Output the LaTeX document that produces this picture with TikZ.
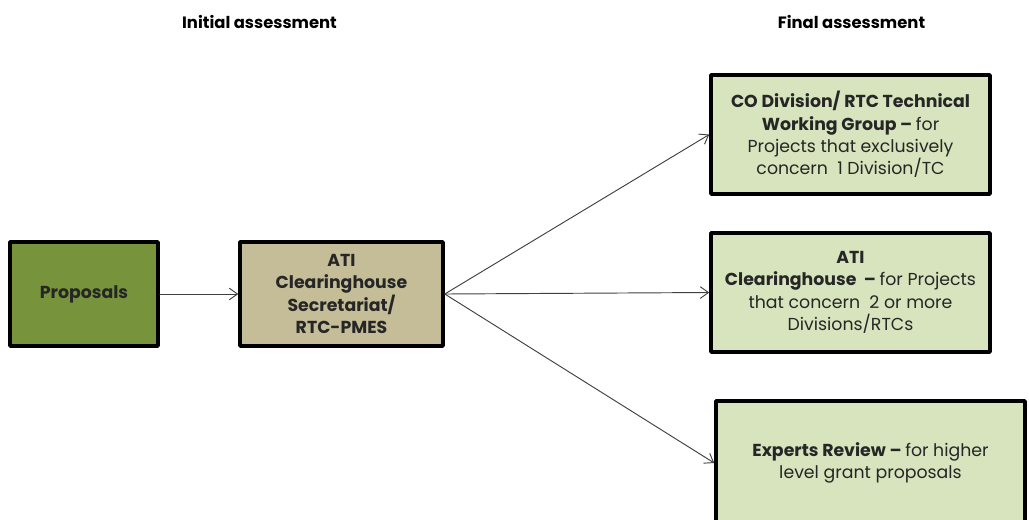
\documentclass[tikz,border=0pt]{standalone}
\usepackage{fontspec}
\setmainfont{Poppins}
\usetikzlibrary{arrows.meta}
\definecolor{propgreen}{HTML}{77933C}
\definecolor{atitan}{HTML}{C4BD97}
\definecolor{finalgreen}{HTML}{D7E4BD}
\definecolor{textgray}{HTML}{262626}
\definecolor{linegray}{HTML}{404040}

\begin{document}
\begin{tikzpicture}[line cap=round,line join=round,>={Straight Barb[length=7pt,width=10pt]},x=0.03cm,y=-0.03cm,
  box/.style={draw=black,line width=3pt,align=center,inner sep=0pt,text=textgray,font=\fontsize{14.8}{19.1}\selectfont},
  head/.style={font=\fontsize{14}{16}\selectfont\bfseries,text=black}]
\useasboundingbox (0,0) rectangle (1029,519);
\clip (0,0) rectangle (1029,519);
% column headings
\node[head] (hinit) at (259.5,22) {Initial assessment};
\node[head] (hfinal) at (851.5,22) {Final assessment};
% boxes
\node[box,fill=propgreen,minimum width=148*0.03cm,minimum height=104*0.03cm] (prop) at (84,294) {\bfseries Proposals};
\node[box,fill=atitan,minimum width=203*0.03cm,minimum height=104*0.03cm] (ati) at (341.5,294) {\bfseries ATI\\\bfseries Clearinghouse\\\bfseries Secretariat/\\\bfseries RTC-PMES};
\node[box,fill=finalgreen,minimum width=279*0.03cm,minimum height=119*0.03cm] (codiv) at (850.5,134.5) {\bfseries CO Division/ RTC Technical\\\bfseries Working Group -- \mdseries for\\Projects that exclusively\\concern\ \ 1 Division/TC};
\node[box,fill=finalgreen,minimum width=279*0.03cm,minimum height=119*0.03cm] (clear) at (850.5,292.5) {\bfseries ATI\\\bfseries Clearinghouse\ \ -- \mdseries for Projects\\that concern\ \ 2 or more\\Divisions/RTCs};
\node[box,fill=finalgreen,minimum width=309*0.03cm,minimum height=124*0.03cm] (expert) at (870.5,463) {\bfseries Experts Review -- \mdseries for higher\\level grant proposals};
% connectors
\draw[->,linegray,line width=0.8pt] (prop) -- (ati);
\draw[->,linegray,line width=0.8pt] (ati.east) -- (codiv.west);
\draw[->,linegray,line width=0.8pt] (ati.east) -- (clear.west);
\draw[->,linegray,line width=0.8pt] (ati.east) -- (expert.west);
\end{tikzpicture}
\end{document}
